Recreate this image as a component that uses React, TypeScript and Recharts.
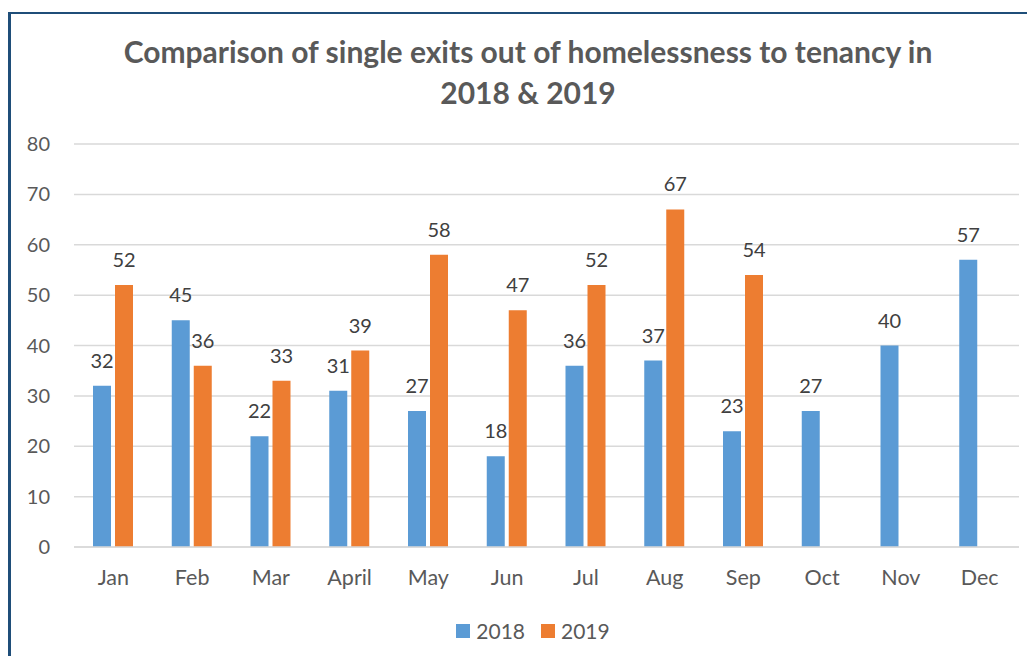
import React from 'react';
import { BarChart, Bar, XAxis, YAxis, CartesianGrid, LabelList } from 'recharts';

const months = ['Jan', 'Feb', 'Mar', 'April', 'May', 'Jun', 'Jul', 'Aug', 'Sep', 'Oct', 'Nov', 'Dec'];
const exits2018 = [32, 45, 22, 31, 27, 18, 36, 37, 23, 27, 40, 57];
const exits2019: (number | null)[] = [52, 36, 33, 39, 58, 47, 52, 67, 54, null, null, null];
const yTicks = [0, 10, 20, 30, 40, 50, 60, 70, 80];

const BLUE = '#5B9BD5';
const ORANGE = '#ED7D31';
const FONT = 'Lato, "Open Sans", sans-serif';

const data = months.map((m, i) => ({ month: m, y2018: exits2018[i], y2019: exits2019[i] }));

export default function App() {
  return (
    <div style={{ position: 'relative', width: 1035, height: 664, margin: -8, overflow: 'hidden', background: '#fff', fontFamily: FONT }}>
      <div
        style={{
          position: 'absolute', left: 8, top: 12, width: 1100, height: 700,
          borderLeft: '3px solid #1F4E79', borderTop: '2px solid #1F4E79',
        }}
      />
      <div
        style={{
          position: 'absolute', left: 8, top: 31, width: 1040, textAlign: 'center',
          fontSize: 30, fontWeight: 700, color: '#595959', lineHeight: '41px',
        }}
      >
        Comparison of single exits out of homelessness to tenancy in
        <br />
        2018 &amp; 2019
      </div>
      <div style={{ position: 'absolute', left: 0, top: 0 }}>
        <BarChart
          width={1035}
          height={664}
          data={data}
          margin={{ top: 144, right: 16, left: 0, bottom: 77 }}
          barSize={18}
          barGap={4}
        >
          <CartesianGrid vertical={false} stroke="#D9D9D9" strokeWidth={1.5} />
          <XAxis
            dataKey="month"
            height={40}
            tickSize={0}
            tickMargin={23}
            axisLine={{ stroke: '#D9D9D9', strokeWidth: 1.5 }}
            tickLine={false}
            tick={{ fontSize: 21.5, fill: '#595959', fontFamily: FONT }}
          />
          <YAxis
            width={74}
            domain={[0, 80]}
            ticks={yTicks}
            tickSize={0}
            tickMargin={24}
            axisLine={false}
            tickLine={false}
            tick={{ fontSize: 20, fill: '#595959', fontFamily: FONT }}
          />
          <Bar dataKey="y2018" name="2018" fill={BLUE} isAnimationActive={false}>
            <LabelList dataKey="y2018" position="top" offset={18} fill="#404040" fontSize={20} fontFamily={FONT} />
          </Bar>
          <Bar dataKey="y2019" name="2019" fill={ORANGE} isAnimationActive={false}>
            <LabelList dataKey="y2019" position="top" offset={18} fill="#404040" fontSize={20} fontFamily={FONT} />
          </Bar>
        </BarChart>
      </div>
      <div
        style={{
          position: 'absolute', left: 0, width: 1066, top: 618, display: 'flex', justifyContent: 'center',
          alignItems: 'center', gap: 16, fontSize: 21, color: '#595959',
        }}
      >
        <span style={{ display: 'flex', alignItems: 'center', gap: 6 }}>
          <span style={{ width: 14, height: 14, background: BLUE, display: 'inline-block' }} />
          2018
        </span>
        <span style={{ display: 'flex', alignItems: 'center', gap: 6 }}>
          <span style={{ width: 14, height: 14, background: ORANGE, display: 'inline-block' }} />
          2019
        </span>
      </div>
    </div>
  );
}
